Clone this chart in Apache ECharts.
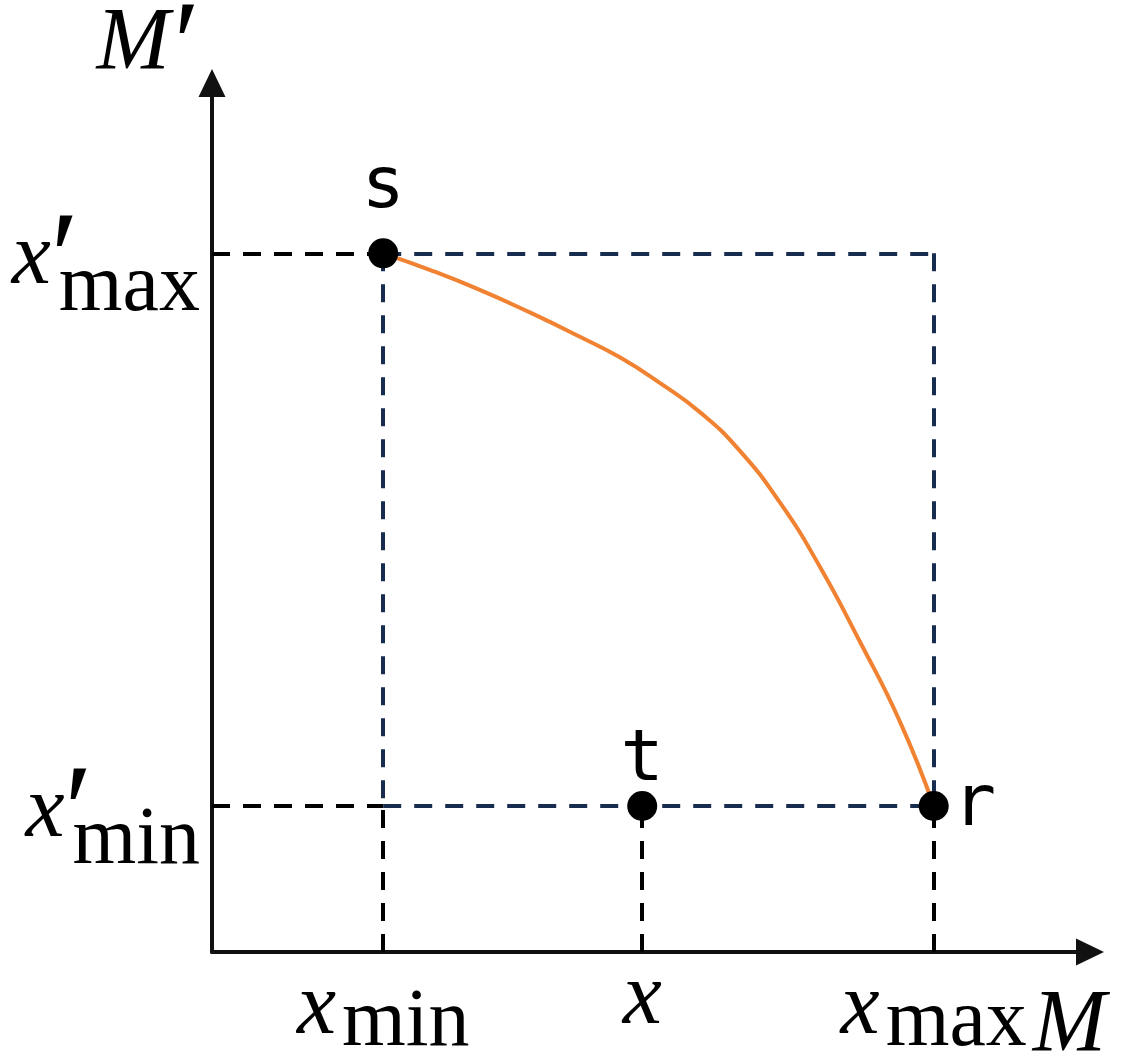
<!DOCTYPE html>
<html><head><meta charset="utf-8">
<script src="https://cdn.jsdelivr.net/npm/echarts@6/dist/echarts.min.js"></script>
<style>html,body{margin:0;padding:0;background:#fff;}#c{width:1132px;height:1054px;}</style>
</head><body><div id="c"></div>
<script>
// ---- data ----
const xTickValues = [1.95, 4.90, 8.22];
const xTickNames = ['x_min', 'x', 'x_max'];
const yTickValues = [1.68, 8.04];
const yTickNames = ["x'_min", "x'_max"];
const xAxisName = 'M';
const yAxisName = "M'";
const pointNames = ['s', 't', 'r'];
const pointX = [1.95, 4.90, 8.22];
const pointY = [8.04, 1.68, 1.68];
const curveX = [1.95, 2.48, 3.05, 3.62, 4.19, 4.65, 5.10, 5.56, 6.01, 6.47, 6.92, 7.38, 7.84, 8.22];
const curveY = [8.04, 7.85, 7.62, 7.36, 7.08, 6.84, 6.55, 6.21, 5.77, 5.17, 4.44, 3.57, 2.64, 1.68];

// ---- helpers ----
function toRich(name) {
  let base = name, sub = '', prime = false;
  if (base.indexOf('_') >= 0) { sub = base.split('_')[1]; base = base.split('_')[0]; }
  if (base.endsWith("'")) { prime = true; base = base.slice(0, -1); }
  let s = '{i|' + base + '}';
  if (prime) s += (sub ? '{pz|\u2009\u2032}' : '{p|\u2032}');
  if (sub) s += (prime ? '{sy|' + sub + '}' : '{s|' + sub + '}');
  return s;
}
const richStyles = {
  i: { fontFamily: 'Liberation Serif', fontStyle: 'italic', fontSize: 88, color: '#000' },
  s: { fontFamily: 'Liberation Serif', fontSize: 82, color: '#000', padding: [26, 0, 0, 6] },
  sy: { fontFamily: 'Liberation Serif', fontSize: 82, color: '#000', padding: [56, 0, 0, 6] },
  p: { fontFamily: 'Liberation Serif', fontSize: 120, lineHeight: 60, color: '#000', padding: [14, 0, 0, 4] },
  pz: { fontFamily: 'Liberation Serif', fontSize: 130, lineHeight: 60, color: '#000', padding: [12, 0, 0, 0], width: 2, align: 'left' }
};

const xMin = xTickValues[0], xMid = xTickValues[1], xMax = xTickValues[2];
const yMin = yTickValues[0], yMax = yTickValues[1];
const blackSegs = [
  [[0, yMax], [xMin, yMax]],
  [[0, yMin], [xMin, yMin]],
  [[xMin, 0], [xMin, yMin]],
  [[xMid, 0], [xMid, yMin]],
  [[xMax, 0], [xMax, yMin]]
];
const navySegs = [
  [[xMin, yMax], [xMax, yMax]],
  [[xMax, yMax], [xMax, yMin]],
  [[xMin, yMax], [xMin, yMin]],
  [[xMin, yMin], [xMax, yMin]]
];
const labelPos = { s: 'top', t: 'top', r: 'right' };
const labelDist = { s: 14, t: -6, r: 4 };

const chart = echarts.init(document.getElementById('c'), null, { renderer: 'canvas' });
chart.setOption({
  animation: false,
  backgroundColor: '#fff',
  grid: { left: 212, right: 42, top: 83, bottom: 102, containLabel: false, outerBoundsMode: 'none' },
  xAxis: {
    type: 'value', min: 0, max: 10,
    splitLine: { show: false },
    axisTick: { show: false },
    axisLine: { show: true, onZero: false, symbol: ['none', 'triangle'], symbolSize: [27, 28],
      lineStyle: { color: '#111', width: 4 } },
    axisLabel: {
      customValues: xTickValues,
      margin: 4,
      formatter: function (v) {
        const k = xTickValues.indexOf(v);
        return k >= 0 ? toRich(xTickNames[k]) : '';
      },
      rich: richStyles
    },
    name: toRich(xAxisName), nameLocation: 'end', nameGap: -25,
    nameTextStyle: { align: 'center', verticalAlign: 'top', padding: [31, 0, 0, 0], rich: richStyles }
  },
  yAxis: {
    type: 'value', min: 0, max: 10,
    splitLine: { show: false },
    axisTick: { show: false },
    axisLine: { show: true, onZero: false, symbol: ['none', 'triangle'], symbolSize: [27, 28],
      lineStyle: { color: '#111', width: 4 } },
    axisLabel: {
      customValues: yTickValues,
      margin: 12,
      padding: [14, 0, 0, 0],
      formatter: function (v) {
        const k = yTickValues.indexOf(v);
        return k >= 0 ? toRich(yTickNames[k]) : '';
      },
      rich: richStyles
    },
    name: toRich(yAxisName), nameLocation: 'end', nameGap: -6,
    nameTextStyle: { align: 'right', verticalAlign: 'bottom', padding: [0, 12, 0, 0], rich: richStyles }
  },
  series: [
    {
      type: 'lines', coordinateSystem: 'cartesian2d', z: 1, silent: true,
      lineStyle: { color: '#000', width: 4, type: [18, 13], opacity: 1, curveness: 0 },
      data: blackSegs.map(c => ({ coords: c }))
    },
    {
      type: 'lines', coordinateSystem: 'cartesian2d', z: 1, silent: true,
      lineStyle: { color: '#182c4f', width: 4, type: [18, 13], opacity: 1, curveness: 0 },
      data: navySegs.map(c => ({ coords: c }))
    },
    {
      type: 'line', z: 2, symbol: 'none', smooth: 0.5,
      lineStyle: { color: '#f08232', width: 4 },
      data: curveX.map((x, i) => [x, curveY[i]])
    },
    {
      type: 'scatter', z: 3, symbolSize: 30,
      itemStyle: { color: '#000', opacity: 1 },
      label: {
        show: true, fontFamily: 'DejaVu Sans Mono', fontSize: 72, color: '#000',
        formatter: p => p.data.name
      },
      data: pointNames.map((n, i) => ({
        name: n, value: [pointX[i], pointY[i]],
        label: { position: labelPos[n], distance: labelDist[n] }
      }))
    }
  ]
});
</script></body></html>
